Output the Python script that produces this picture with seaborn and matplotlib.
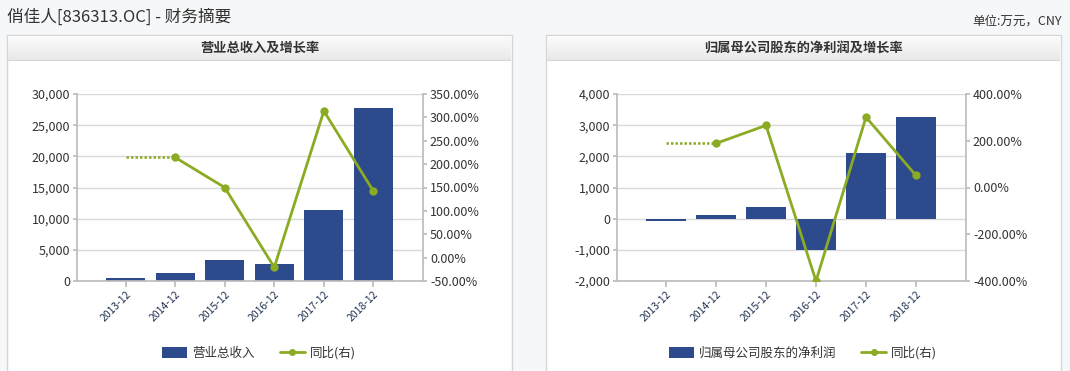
import numpy as np
import pandas as pd
import matplotlib
matplotlib.use("Agg")
import matplotlib.pyplot as plt
import seaborn as sns
from matplotlib.patches import Rectangle, Patch
from matplotlib.lines import Line2D

# data
periods = ["2013-12", "2014-12", "2015-12", "2016-12", "2017-12", "2018-12"]
revenue = [536, 1340, 3375, 2786, 11410, 27800]
revenue_yoy = [np.nan, 214.3, 150.0, -20.7, 313.6, 142.0]
profit = [-86, 107, 364, -1018, 2100, 3247]
profit_yoy = [np.nan, 188.6, 265.7, -400.0, 301.0, 51.4]

BAR_COLOR = "#2c4a8c"
LINE_COLOR = "#8aab22"
TEXT_COLOR = "#333333"
AXIS_COLOR = "#bdbdbd"
GRID_COLOR = "#d9d9d9"

sns.set_theme(style="white")
plt.rcParams['font.family'] = ['Noto Sans CJK SC', 'DejaVu Sans']
plt.rcParams['axes.unicode_minus'] = False

W, H = 1070, 371
fig = plt.figure(figsize=(W / 100, H / 100), dpi=100, facecolor="#f6f7f9")


def fx(px):
    return px / W


def fy(py):
    return 1 - py / H


def draw_panel(x0, x1, title):
    # white panel box with a grey gradient header
    fig.patches.append(Rectangle((fx(x0), -0.01), fx(x1 - x0), fy(35) + 0.01, transform=fig.transFigure,
                                 facecolor="white", edgecolor="#d6d6d6", linewidth=1, zorder=-5))
    hax = fig.add_axes([fx(x0 + 1), fy(61), fx(x1 - x0 - 2), (61 - 36) / H])
    grad = np.linspace(0, 1, 50).reshape(-1, 1)
    hax.imshow(grad, aspect="auto", cmap=matplotlib.colors.LinearSegmentedColormap.from_list(
        "hdr", ["#fbfbfb", "#e8e8e8"]), extent=[0, 1, 0, 1], origin="upper")
    hax.axhline(0, color="#d6d6d6", lw=1.5)
    hax.set_axis_off()
    fig.text(fx((x0 + x1) / 2), fy(48), title, ha="center", va="center",
             fontsize=9.5, fontweight="bold", color=TEXT_COLOR)


def draw_chart(rect, values, yoy, ylim, yticks, y2lim, y2ticks, bar_label, panel_cx):
    ax = fig.add_axes(rect)
    ax.set_facecolor("white")
    df = pd.DataFrame({"period": periods, "value": values, "yoy": yoy})
    sns.barplot(data=df, x="period", y="value", ax=ax, color=BAR_COLOR, width=0.79,
                saturation=1, edgecolor="none")
    ax.set_xlim(-0.98, 6.0)
    ax.set_ylim(*ylim)
    ax.set_yticks(yticks)
    ax.set_yticklabels([f"{v:,}" for v in yticks])
    ax.set_xlabel("")
    ax.set_ylabel("")
    ax.grid(axis="y", color=GRID_COLOR, lw=1)
    ax.set_axisbelow(True)
    for s in ["left", "bottom"]:
        ax.spines[s].set_color(AXIS_COLOR)
    ax.spines["top"].set_visible(False)
    ax.spines["right"].set_visible(False)
    ax.tick_params(axis="y", left=True, length=3, color=AXIS_COLOR, labelsize=9,
                   labelcolor=TEXT_COLOR, pad=2)
    ax.tick_params(axis="x", bottom=True, length=4, color=AXIS_COLOR, labelsize=7.5,
                   labelcolor="#1f3050", pad=2)
    ax.set_xticks(range(len(periods)))
    ax.set_xticklabels(periods, rotation=45, ha="right", rotation_mode="anchor")

    ax2 = ax.twinx()
    xs = np.arange(len(periods))
    line_df = pd.DataFrame({"x": xs, "yoy": yoy}).dropna()
    sns.lineplot(data=line_df, x="x", y="yoy", ax=ax2, color=LINE_COLOR, lw=2,
                 marker="o", markersize=6, markeredgewidth=0)
    # dotted connector from the first period (no growth value) to the first point
    first = line_df.iloc[0]
    ax2.plot([xs[0], first["x"]], [first["yoy"], first["yoy"]], ls=(0, (1, 0.8)),
             color=LINE_COLOR, lw=1.8)
    ax2.set_ylim(*y2lim)
    ax2.set_yticks(y2ticks)
    ax2.set_yticklabels([f"{v:.2f}%" for v in y2ticks])
    ax2.set_xlim(-0.98, 6.0)
    ax2.set_xlabel("")
    ax2.set_ylabel("")
    ax2.grid(False)
    for s in ["top", "left", "bottom"]:
        ax2.spines[s].set_visible(False)
    ax2.spines["right"].set_color(AXIS_COLOR)
    ax2.tick_params(axis="y", right=True, length=3, color=AXIS_COLOR, labelsize=9,
                    labelcolor=TEXT_COLOR, pad=2)

    handles = [Patch(facecolor=BAR_COLOR, edgecolor="none"),
               Line2D([0], [0], color=LINE_COLOR, lw=2, marker="o", markersize=4)]
    fig.legend(handles, [bar_label, "同比(右)"], loc="center", ncol=2, frameon=False,
               bbox_to_anchor=(fx(panel_cx), fy(353)), fontsize=9, labelcolor=TEXT_COLOR,
               handlelength=2.0, handleheight=0.9, handletextpad=0.4, columnspacing=2.0)


fig.text(fx(7), fy(17), "俏佳人[836313.OC] - 财务摘要", ha="left", va="center",
         fontsize=12, color=TEXT_COLOR)
fig.text(fx(1062), fy(21), "单位:万元，CNY", ha="right", va="center", fontsize=9, color=TEXT_COLOR)

draw_panel(7, 512, "营业总收入及增长率")
draw_panel(546, 1061, "归属母公司股东的净利润及增长率")

draw_chart([fx(77), fy(281), fx(423 - 77), (281 - 94) / H], revenue, revenue_yoy,
           (0, 30000), list(range(0, 30001, 5000)),
           (-50, 350), list(range(-50, 351, 50)), "营业总收入", 259)
draw_chart([fx(617), fy(281), fx(966 - 617), (281 - 94) / H], profit, profit_yoy,
           (-2000, 4000), list(range(-2000, 4001, 1000)),
           (-400, 400), list(range(-400, 401, 200)), "归属母公司股东的净利润", 803)

fig.savefig("out.png", dpi=100, facecolor=fig.get_facecolor())
